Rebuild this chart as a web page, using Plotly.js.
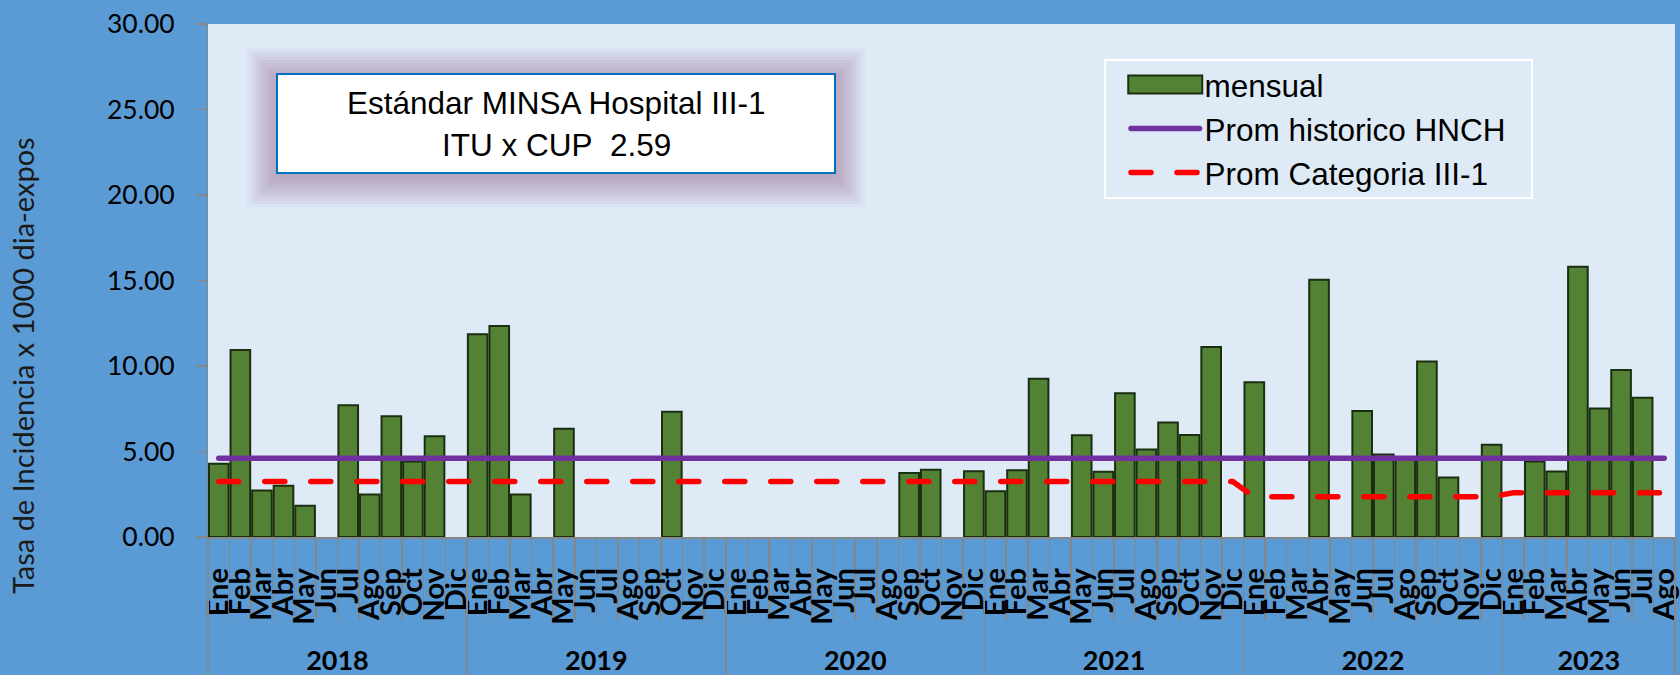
<!DOCTYPE html>
<html><head><meta charset="utf-8">
<script src="https://cdn.plot.ly/plotly-3.0.1.min.js"></script>
<style>html,body{margin:0;padding:0;background:#5B9BD5;} #chart{width:1680px;height:675px;}</style>
</head><body><div id="chart"></div>
<script>
// ---- data ----
const years = ['2018','2019','2020','2021','2022','2023'];
const monthsPerYear = [12,12,12,12,12,8];
const monthNames = ['Ene','Feb','Mar','Abr','May','Jun','Jul','Ago','Sep','Oct','Nov','Dic'];
const mensual = [
  4.28,10.93,2.72,3.00,1.83,null,7.70,2.49,7.06,4.42,5.89,null,
  11.85,12.34,2.49,null,6.33,null,null,null,null,7.32,null,null,
  null,null,null,null,null,null,null,null,3.74,3.93,null,3.85,
  2.67,3.91,9.26,null,5.95,3.81,8.40,5.12,6.69,5.97,11.11,null,
  9.05,null,null,15.04,null,7.37,4.82,4.60,10.27,3.48,null,5.39,
  null,4.42,3.83,15.80,7.51,9.77,8.15,null
];
const promHistorico = [
  4.61,4.61,4.61,4.61,4.61,4.61,4.61,4.61,4.61,4.61,4.61,4.61,
  4.61,4.61,4.61,4.61,4.61,4.61,4.61,4.61,4.61,4.61,4.61,4.61,
  4.61,4.61,4.61,4.61,4.61,4.61,4.61,4.61,4.61,4.61,4.61,4.61,
  4.61,4.61,4.61,4.61,4.61,4.61,4.61,4.61,4.61,4.61,4.61,4.61,
  4.61,4.61,4.61,4.61,4.61,4.61,4.61,4.61,4.61,4.61,4.61,4.61,
  4.61,4.61,4.61,4.61,4.61,4.61,4.61,4.61
];
const promCategoria = [
  3.25,3.25,3.25,3.25,3.25,3.25,3.25,3.25,3.25,3.25,3.25,3.25,
  3.25,3.25,3.25,3.25,3.25,3.25,3.25,3.25,3.25,3.25,3.25,3.25,
  3.25,3.25,3.25,3.25,3.25,3.25,3.25,3.25,3.25,3.25,3.25,3.25,
  3.25,3.25,3.25,3.25,3.25,3.25,3.25,3.25,3.25,3.25,3.25,3.25,
  2.35,2.35,2.35,2.35,2.35,2.35,2.35,2.35,2.35,2.35,2.35,2.35,
  2.59,2.59,2.59,2.59,2.59,2.59,2.59,2.59
];
const seriesNames = ['mensual','Prom historico HNCH','Prom Categoria III-1'];
const yTitle = 'Tasa de Incidencia x 1000 dia-expos';
const boxLines = ['Estándar MINSA Hospital III-1','ITU x CUP\u00A0 2.59'];

// ---- derived category positions ----
const monthLabels = years.flatMap((y,i)=>monthNames.slice(0,monthsPerYear[i]));
const xIdx = monthLabels.map((_,i)=>i);
const monthBounds = xIdx.map(i=>i-0.5).concat([xIdx.length-0.5]);
const yearStart = monthsPerYear.map((n,i)=>monthsPerYear.slice(0,i).reduce((a,b)=>a+b,0));
const yearCenters = yearStart.map((s,i)=>s+(monthsPerYear[i]-1)/2);
const yearBounds = yearStart.map(s=>s-0.5).concat([xIdx.length-0.5]);

// ---- layout geometry (px) ----
const W=1680,H=675, M={l:208,r:5,t:24,b:138};
const PW=W-M.l-M.r, PH=H-M.t-M.b;
const px2x = p=>(p-M.l)/PW, px2y = p=>(H-M.b-p)/PH;

const gray='#878787';
// text box: x 277..835, y 74..173
const boxCx=px2x(556), boxCy=px2y(123.5);
const shapes=[];
for(let k=1;k<=10;k++){
  const e=3*k;
  shapes.push({type:'rect',xref:'paper',yref:'paper',xsizemode:'pixel',ysizemode:'pixel',
    xanchor:boxCx,yanchor:boxCy,x0:-279-e,x1:279+e,y0:-49.5-e-4,y1:49.5+e-4,
    line:{width:0},fillcolor:'rgb(140,60,95)',opacity:0.04,layer:'below'});
}
shapes.push({type:'rect',xref:'paper',yref:'paper',xsizemode:'pixel',ysizemode:'pixel',
  xanchor:boxCx,yanchor:boxCy,x0:-279,x1:279,y0:-49.5,y1:49.5,
  line:{color:'#0070C0',width:2},fillcolor:'#FFFFFF',layer:'above'});
// legend frame: x 1105..1532, y 60..198
shapes.push({type:'rect',xref:'paper',yref:'paper',xsizemode:'pixel',ysizemode:'pixel',
  xanchor:px2x(1318.5),yanchor:px2y(129),x0:-213.5,x1:213.5,y0:-69,y1:69,
  line:{color:'#FFFFFF',width:2},fillcolor:'rgba(0,0,0,0)',layer:'below'});

const traces=[
  {type:'bar',x:xIdx,y:mensual,name:seriesNames[0],width:0.91,legendgroup:'a',
   marker:{color:'#548235',line:{color:'#1a2e10',width:2}},hoverinfo:'skip'},
  {type:'scatter',mode:'lines',x:xIdx,y:promHistorico,name:seriesNames[1],legendgroup:'b',
   line:{color:'#7030A0',width:5.5},hoverinfo:'skip'},
  {type:'scatter',mode:'lines',x:xIdx,y:promCategoria,name:seriesNames[2],legendgroup:'c',
   line:{color:'#FF0000',width:5.5,dash:'20px,26px'},hoverinfo:'skip'},
  {type:'scatter',mode:'markers',x:yearCenters,y:yearCenters.map(()=>null),xaxis:'x2',
   showlegend:false,hoverinfo:'skip'}
];

const boxFont={family:'Liberation Sans, Arial',size:31.5,color:'#000'};
const layout={
  width:W,height:H,margin:M,
  paper_bgcolor:'#5B9BD5',plot_bgcolor:'#DEEBF7',
  showlegend:true,bargap:0.09,
  font:{family:'Lato',color:'#000'},
  xaxis:{range:[-0.5,xIdx.length-0.5],tickmode:'array',tickvals:xIdx,ticktext:monthLabels,
    tickangle:-90,tickfont:{family:'Lato',size:29,color:'#000',weight:'bold'},
    ticks:'',showline:true,linecolor:gray,linewidth:1.5,showgrid:false,zeroline:false,
    ticklabelstandoff:18,fixedrange:true,
    minor:{tickmode:'array',tickvals:monthBounds,ticks:'outside',ticklen:81,tickcolor:gray,tickwidth:1.5,showgrid:false}},
  xaxis2:{overlaying:'x',anchor:'y',side:'bottom',range:[-0.5,xIdx.length-0.5],
    tickmode:'array',tickvals:yearCenters,ticktext:years,
    tickfont:{family:'Lato',size:27,color:'#000',weight:'bold'},
    ticks:'',showline:false,showgrid:false,zeroline:false,ticklabelstandoff:105,fixedrange:true,
    minor:{tickmode:'array',tickvals:yearBounds,ticks:'outside',ticklen:140,tickcolor:gray,tickwidth:1.5,showgrid:false}},
  yaxis:{range:[0,30],tickmode:'linear',tick0:0,dtick:5,tickformat:'.2f',
    ticks:'outside',ticklen:10.5,tickcolor:gray,tickwidth:1.5,showline:true,linecolor:gray,linewidth:1.5,
    tickfont:{family:'Lato',size:26.5,color:'#000'},ticklabelstandoff:16,
    showgrid:false,zeroline:false,fixedrange:true},
  legend:{x:px2x(1126),y:px2y(57.5),xanchor:'left',yanchor:'top',
    bgcolor:'rgba(0,0,0,0)',borderwidth:0,tracegroupgap:3.5,
    font:{family:'Liberation Sans, Arial',size:31.5,color:'#000'},itemwidth:68.5,traceorder:'normal'},
  shapes:shapes,
  annotations:[
    {xref:'paper',yref:'paper',x:px2x(22),y:px2y(366),text:yTitle,textangle:-90,showarrow:false,
     xanchor:'center',yanchor:'middle',font:{family:'Lato',size:29,color:'#1a1a1a'}},
    {xref:'paper',yref:'paper',x:boxCx,y:px2y(103),text:boxLines[0],showarrow:false,
     xanchor:'center',yanchor:'middle',font:boxFont},
    {xref:'paper',yref:'paper',x:boxCx,y:px2y(145),text:boxLines[1],showarrow:false,
     xanchor:'center',yanchor:'middle',font:boxFont}
  ]
};

Plotly.newPlot('chart',traces,layout,{staticPlot:true,displayModeBar:false}).then(gd=>{
  gd.querySelectorAll('.scatterlayer .js-line, .legend .legendlines path').forEach(p=>{
    p.style.strokeLinecap='round';
  });
  // widen the bar legend swatch to span the same width as the line symbols
  const items = gd.querySelectorAll('.legend .traces');
  if(items.length>=2){
    const bp = items[0].querySelector('.legendpoints path');
    const lp = items[1].querySelector('.legendlines path');
    if(bp && lp){
      const br = bp.getBoundingClientRect(), lr = lp.getBoundingClientRect();
      const cx = (br.left+br.right)/2, cap=2.75;
      const x0 = lr.left-cap-cx, x1 = lr.right+cap-cx;
      bp.setAttribute('d','M'+x1+',9H'+x0+'V-9H'+x1+'Z');
    }
  }
});
</script></body></html>
